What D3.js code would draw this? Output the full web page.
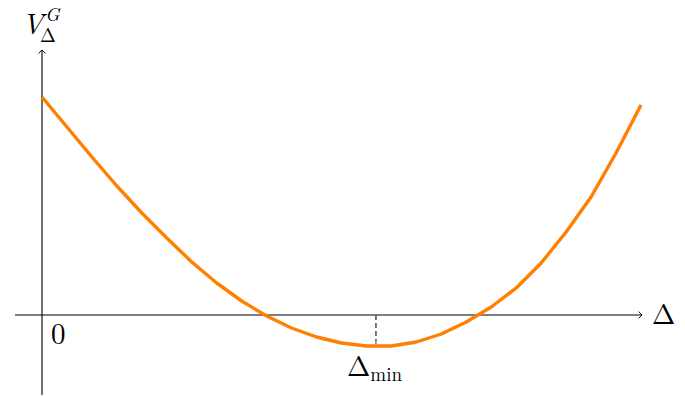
<!DOCTYPE html>
<html>
<head>
<meta charset="utf-8">
<script src="https://cdn.jsdelivr.net/npm/d3@7"></script>
<style>
  html, body { margin: 0; padding: 0; background: #fff; }
  svg { display: block; }
</style>
</head>
<body>
<svg id="chart" width="685" height="397"></svg>
<script>
// Gap parameter Δ, sampled uniformly
const deltaValues = d3.range(0, 2.41, 0.1).map(d => +d.toFixed(1));
// Potential V_Δ^G at each sample
const potentialValues = [2.18, 1.88, 1.58, 1.29, 1.02, 0.77, 0.53, 0.32, 0.14, -0.01,
                         -0.13, -0.22, -0.28, -0.31, -0.31, -0.27, -0.19, -0.07, 0.08,
                         0.27, 0.52, 0.83, 1.18, 1.62, 2.10];
// Position of the minimum on the Δ axis
const deltaMin = 1.338;
const tickLabels = { origin: "0", min: "Δ", minSub: "min" };

const serif = "Latin Modern Roman";

const svg = d3.select("#chart");

const x = d3.scaleLinear().domain([0, 2.4]).range([42, 641]);
const y = d3.scaleLinear().domain([0, 1]).range([315, 215]);

const axisColor = "#000";

// Open arrow head
function arrowHead(g, tipX, tipY, dir) {
  const s = 3.2;
  let p;
  if (dir === "right") p = [[tipX - s, tipY - s], [tipX, tipY], [tipX - s, tipY + s]];
  else p = [[tipX - s, tipY + s], [tipX, tipY], [tipX + s, tipY + s]];
  g.append("path")
    .attr("d", d3.line()(p))
    .attr("fill", "none")
    .attr("stroke", axisColor)
    .attr("stroke-width", 0.9)
    .attr("stroke-linejoin", "round")
    .attr("stroke-linecap", "round");
}

const axes = svg.append("g");
// horizontal axis
axes.append("line")
  .attr("x1", x(-0.108)).attr("x2", x(2.4) + 1)
  .attr("y1", y(0)).attr("y2", y(0))
  .attr("stroke", axisColor).attr("stroke-width", 1.1);
arrowHead(axes, x(2.4) + 1, y(0), "right");

// vertical axis
axes.append("line")
  .attr("x1", x(0)).attr("x2", x(0))
  .attr("y1", y(-0.8)).attr("y2", y(2.65))
  .attr("stroke", axisColor).attr("stroke-width", 1.1);
arrowHead(axes, x(0), y(2.65), "up");

// dashed marker at the minimum
svg.append("line")
  .attr("x1", x(deltaMin)).attr("x2", x(deltaMin))
  .attr("y1", y(0)).attr("y2", y(-0.31))
  .attr("stroke", "#555").attr("stroke-width", 1.1)
  .attr("stroke-dasharray", "5,3");

// curve
const pts = deltaValues.map((d, i) => [d, potentialValues[i]]);
svg.append("path")
  .datum(pts)
  .attr("d", d3.line().x(d => x(d[0])).y(d => y(d[1])))
  .attr("fill", "none")
  .attr("stroke", "#ff7f00")
  .attr("stroke-width", 3.4)
  .attr("stroke-linejoin", "round");

// redraw marker portion above curve
svg.append("line")
  .attr("x1", x(deltaMin)).attr("x2", x(deltaMin))
  .attr("y1", y(0)).attr("y2", y(-0.26))
  .attr("stroke", "#555").attr("stroke-width", 1.1)
  .attr("stroke-dasharray", "5,3");

function label(tx, ty, size, str, italic) {
  return svg.append("text")
    .attr("x", tx).attr("y", ty)
    .attr("font-family", serif)
    .attr("font-size", size)
    .attr("font-style", italic ? "italic" : "normal")
    .attr("fill", "#000")
    .text(str);
}

// labels
label(x(0) + 9, 344, 29, tickLabels.origin);
const minLabel = svg.append("text")
  .attr("x", 347).attr("y", 376)
  .attr("font-family", serif)
  .attr("font-size", 28)
  .attr("fill", "#000");
minLabel.append("tspan").text(tickLabels.min);
minLabel.append("tspan").attr("font-size", 19).attr("dy", 5).text(tickLabels.minSub);

label(652, 324, 28, "Δ");

// vertical axis title V_Δ^G, as one text with positioned parts
const yTitle = svg.append("text")
  .attr("font-family", serif)
  .attr("fill", "#000");
yTitle.append("tspan").attr("x", 22).attr("y", 34)
  .attr("font-size", 29).attr("font-style", "italic").text("V");
yTitle.append("tspan").attr("x", 45).attr("y", 21)
  .attr("font-size", 19).attr("font-style", "italic").text("G");
yTitle.append("tspan").attr("x", 40).attr("y", 42)
  .attr("font-size", 19).text("Δ");
</script>
</body>
</html>
